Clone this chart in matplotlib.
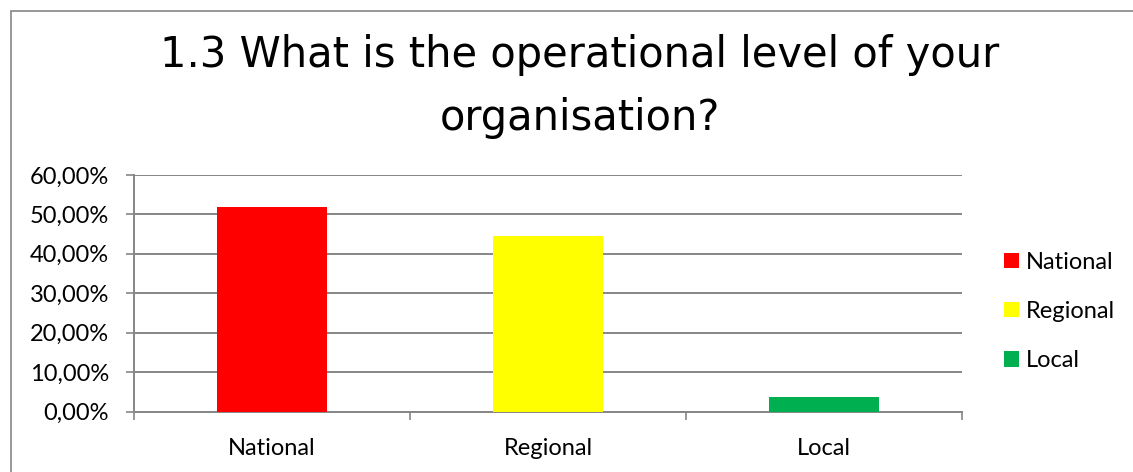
import matplotlib
matplotlib.use("Agg")
import matplotlib.pyplot as plt
import matplotlib.ticker as mticker
from matplotlib.patches import Rectangle
import numpy as np

categories = ["National", "Regional", "Local"]
shares = [51.85, 44.44, 3.70]
bar_colors = ["#FF0000", "#FFFF00", "#00B050"]
yticks = [0, 10, 20, 30, 40, 50, 60]
title_lines = ["1.3 What is the operational level of your", "organisation?"]

W, H = 1133, 472
fig = plt.figure(figsize=(W / 100, H / 100), dpi=100)
fig.patch.set_facecolor("white")

# outer chart frame (cut off at right/bottom like the source)
fig.patches.append(Rectangle((11 / W, -0.05), 1.2, 1.05 - 11 / H, transform=fig.transFigure,
                             fill=False, edgecolor="#868686", lw=1.2))

ax = fig.add_axes([134 / W, 1 - 411.5 / H, (962 - 134) / W, (411.5 - 175) / H])
x = np.arange(len(categories))
for i in range(len(categories)):
    ax.bar(x[i], shares[i], width=0.40, color=bar_colors[i], label=categories[i], zorder=3)

fs = 17
ax.set_xlim(-0.5, 2.5)
ax.set_ylim(0, 60)
ax.set_yticks(yticks)
ax.yaxis.set_major_formatter(mticker.FuncFormatter(lambda v, p: ("%.2f%%" % v).replace(".", ",")))
ax.set_xticks(x)
ax.set_xticklabels(categories)
ax.set_xticks([-0.5, 0.5, 1.5, 2.5], minor=True)
ax.tick_params(axis="x", which="major", length=0, pad=19)
ax.tick_params(axis="x", which="minor", length=6, width=1.2, color="#868686", direction="out")
ax.tick_params(axis="y", length=6, width=1.2, color="#868686", pad=12)
for lab in ax.get_xticklabels() + ax.get_yticklabels():
    lab.set_fontfamily("Lato")
    lab.set_fontsize(fs)
    lab.set_color("black")

ax.grid(axis="y", color="#868686", lw=1.4, zorder=0)
for s in ["top", "right"]:
    ax.spines[s].set_visible(False)
for s in ["left", "bottom"]:
    ax.spines[s].set_color("#868686")
    ax.spines[s].set_linewidth(1.4)

fig.text(0.512, 1 - 67 / H, title_lines[0], ha="center", va="baseline", fontsize=30,
         fontfamily="DejaVu Sans")
fig.text(0.512, 1 - 130 / H, title_lines[1], ha="center", va="baseline", fontsize=30,
         fontfamily="DejaVu Sans")

leg = ax.legend(loc="center left", bbox_to_anchor=(1004 / W, 1 - 311.5 / H), bbox_transform=fig.transFigure,
                frameon=False, prop={"family": "Lato", "size": fs}, handlelength=0.62, handleheight=0.62,
                handletextpad=0.3, labelspacing=1.2, borderpad=0, borderaxespad=0)

fig.savefig("out.png", dpi=100)
